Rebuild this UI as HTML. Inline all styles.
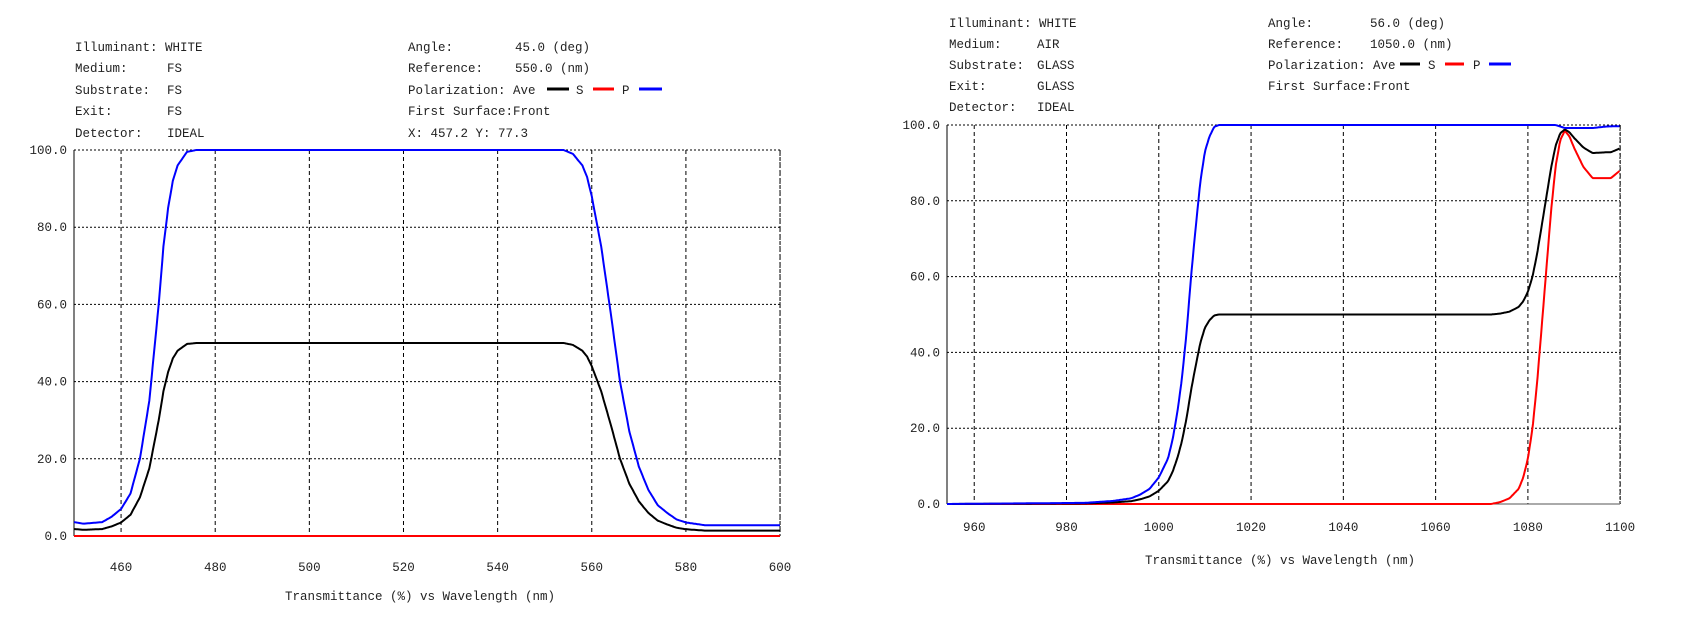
<!DOCTYPE html>
<html><head><meta charset="utf-8"><style>
html,body{margin:0;padding:0;background:#fff;}
svg text{font-family:"Liberation Mono","DejaVu Sans Mono",monospace;font-size:12.5px;fill:#222;}
</style></head><body>
<svg id="s" width="1699" height="616" xmlns="http://www.w3.org/2000/svg">
<rect width="1699" height="616" fill="#fff"/>
<g id="g"></g>
<text x="75" y="51">Illuminant: WHITE</text>
<text x="75" y="72">Medium:</text><text x="167" y="72">FS</text>
<text x="75" y="94">Substrate:</text><text x="167" y="94">FS</text>
<text x="75" y="115">Exit:</text><text x="167" y="115">FS</text>
<text x="75" y="137">Detector:</text><text x="167" y="137">IDEAL</text>
<text x="408" y="51">Angle:</text><text x="515" y="51">45.0 (deg)</text>
<text x="408" y="72">Reference:</text><text x="515" y="72">550.0 (nm)</text>
<text x="408" y="94">Polarization: Ave</text><text x="576" y="94">S</text><text x="622" y="94">P</text>
<text x="408" y="115">First Surface:Front</text>
<text x="408" y="137">X: 457.2  Y:  77.3</text>
<line x1="547" y1="89" x2="569" y2="89" stroke="#000" stroke-width="3"/>
<line x1="593" y1="89" x2="614" y2="89" stroke="#f00" stroke-width="3"/>
<line x1="639" y1="89" x2="662" y2="89" stroke="#00f" stroke-width="3"/>
<text x="420" y="600" text-anchor="middle">Transmittance (%)  vs  Wavelength (nm)</text>
<text x="949" y="27">Illuminant: WHITE</text>
<text x="949" y="48">Medium:</text><text x="1037" y="48">AIR</text>
<text x="949" y="69">Substrate:</text><text x="1037" y="69">GLASS</text>
<text x="949" y="90">Exit:</text><text x="1037" y="90">GLASS</text>
<text x="949" y="111">Detector:</text><text x="1037" y="111">IDEAL</text>
<text x="1268" y="27">Angle:</text><text x="1370" y="27">56.0 (deg)</text>
<text x="1268" y="48">Reference:</text><text x="1370" y="48">1050.0 (nm)</text>
<text x="1268" y="69">Polarization: Ave</text><text x="1428" y="69">S</text><text x="1473" y="69">P</text>
<text x="1268" y="90">First Surface:Front</text>
<line x1="1400" y1="64" x2="1420" y2="64" stroke="#000" stroke-width="3"/>
<line x1="1445" y1="64" x2="1464" y2="64" stroke="#f00" stroke-width="3"/>
<line x1="1489" y1="64" x2="1511" y2="64" stroke="#00f" stroke-width="3"/>
<text x="1280" y="564" text-anchor="middle">Transmittance (%)  vs  Wavelength (nm)</text>
</svg>
<script>
var NS="http://www.w3.org/2000/svg",G=document.getElementById('g');
function el(t,a){var e=document.createElementNS(NS,t);for(var k in a)e.setAttribute(k,a[k]);G.appendChild(e);return e;}
function interp(d,x){if(x<=d[0][0])return d[0][1];for(var i=1;i<d.length;i++){if(x<=d[i][0]){var a=d[i-1],b=d[i];return a[1]+(b[1]-a[1])*(x-a[0])/(b[0]-a[0]);}}return d[d.length-1][1];}
function plot(c){
 var X=function(n){return c.x0+(n-c.n0)*c.px;},Y=function(v){return c.y0-v*c.py;};
 for(var v=20;v<=100;v+=20){el('line',{x1:c.x0,x2:c.x1,y1:Y(v),y2:Y(v),stroke:'#000','stroke-dasharray':'2,2','stroke-width':1});}
 for(var v=0;v<=100;v+=20){var t=el('text',{x:c.x0-7,y:Y(v)+4,'text-anchor':'end'});t.textContent=v.toFixed(1);}
 c.ticks.forEach(function(n){el('line',{x1:X(n),x2:X(n),y1:Y(100),y2:c.y0,stroke:'#000','stroke-dasharray':'4,3','stroke-width':1});var t=el('text',{x:X(n),y:c.ty,'text-anchor':'middle'});t.textContent=n;});
 el('line',{x1:c.x1,x2:c.x1,y1:Y(100),y2:c.y0,stroke:'#000','stroke-dasharray':'2,2'});
 el('line',{x1:c.x0,x2:c.x0,y1:Y(100),y2:c.y0,stroke:'#000'});
 el('line',{x1:c.x0,x2:c.x1,y1:c.y0,y2:c.y0,stroke:'#555'});
 function path(f,col){var d='';for(var n=c.n0;n<=c.n1+0.001;n+=0.25){var v=f(n);d+=(d?'L':'M')+X(n).toFixed(1)+','+Y(v).toFixed(1);}el('path',{d:d,fill:'none',stroke:col,'stroke-width':2});}
 var P=function(n){return interp(c.P,n)},S=function(n){return interp(c.S,n)};
 path(S,'#f00');path(function(n){return (P(n)+S(n))/2},'#000');path(P,'#00f');
}
plot({x0:74,x1:780,n0:450,n1:600,px:4.707,y0:536,py:3.86,ty:571,ticks:[460,480,500,520,540,560,580,600],
 P:[[450,3.6],[452,3.2],[456,3.6],[458,5],[460,7],[462,11],[464,20],[466,35],[468,60],[469,75],[470,85],[471,92],[472,96],[474,99.5],[476,100],[554,100],[556,99],[558,96],[559,93],[560,88],[562,75],[564,58],[566,40],[568,27],[570,18],[572,12],[574,8],[576,6],[578,4.3],[580,3.5],[584,2.8],[600,2.8]],
 S:[[450,0],[600,0]]});
plot({x0:947,x1:1620,n0:954.1,n1:1100,px:4.614,y0:504,py:3.79,ty:531,ticks:[960,980,1000,1020,1040,1060,1080,1100],
 P:[[954,0],[984,0.3],[990,0.8],[994,1.5],[996,2.5],[998,4],[1000,7],[1002,12],[1003,17],[1004,24],[1005,33],[1006,45],[1007,60],[1008,73],[1009,85],[1010,93],[1011,97],[1012,99.5],[1013,100],[1086,100],[1088,99.2],[1094,99.2],[1097,99.6],[1100,99.7]],
 S:[[954,0],[1072,0],[1074,0.5],[1076,1.5],[1078,4],[1079,7],[1080,12],[1081,20],[1082,32],[1083,47],[1084,62],[1085,77],[1086,89],[1087,96],[1088,98.5],[1089,97],[1090,94],[1092,89],[1094,86],[1098,86],[1100,88]]});
</script>
</body></html>
